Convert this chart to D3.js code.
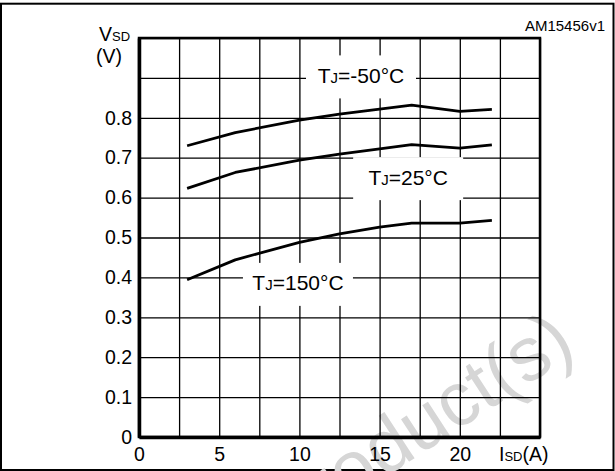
<!DOCTYPE html>
<html>
<head>
<meta charset="utf-8">
<script src="https://cdn.jsdelivr.net/npm/d3@7"></script>
<style>
  body { margin: 0; background: #fff; }
  svg { display: block; font-family: "Liberation Sans", Arial, sans-serif; }
</style>
</head>
<body>
<div id="chart"></div>
<script>
// Source-drain diode forward characteristics
const currentA = [3, 6, 10, 12.5, 15, 17, 20, 22];
const vMinus50 = [0.730, 0.763, 0.794, 0.809, 0.822, 0.832, 0.816, 0.821];
const v25 = [0.623, 0.663, 0.694, 0.709, 0.722, 0.733, 0.724, 0.732];
const v150 = [0.394, 0.444, 0.488, 0.509, 0.526, 0.536, 0.536, 0.543];

const xTickLabels = [0, 5, 10, 15, 20];
const yTickLabels = [0, 0.1, 0.2, 0.3, 0.4, 0.5, 0.6, 0.7, 0.8];
const xGrid = d3.range(0, 25.01, 2.5);
const yGrid = d3.range(0, 1.001, 0.1);

const seriesNames = ['-50', '25', '150'];
const seriesValues = [vMinus50, v25, v150];

let margin = { top: 38, left: 139, right: 75, bottom: 34 },
  W = 615, H = 471,
  width = W - margin.left - margin.right,
  height = H - margin.top - margin.bottom;

let svg = d3.select('#chart')
  .append('svg')
    .attr('width', W)
    .attr('height', H);

// outer border
svg.append('rect')
  .attr('x', 1).attr('y', 3.7)
  .attr('width', 612.5).attr('height', 466.3)
  .attr('fill', 'none')
  .attr('stroke', '#000')
  .attr('stroke-width', 2);

// watermark
svg.append('text')
  .attr('transform', 'translate(578,352) rotate(-33)')
  .attr('text-anchor', 'end')
  .attr('font-size', 76)
  .attr('fill', '#d6d6d6')
  .text('Product(s)');

let g = svg.append('g')
  .attr('transform', 'translate(' + margin.left + ',' + margin.top + ')');

let x = d3.scaleLinear().domain([0, 25]).range([0, width]);
let y = d3.scaleLinear().domain([0, 1]).range([height, 0]);

// grid
g.append('g')
  .attr('class', 'grid')
  .attr('transform', 'translate(0,' + height + ')')
  .call(d3.axisBottom(x).tickValues(xGrid).tickSize(-height).tickFormat(''))
  .call(s => s.select('.domain').remove())
  .selectAll('line')
    .attr('stroke', '#000')
    .attr('stroke-width', 1.3);

g.append('g')
  .attr('class', 'grid')
  .call(d3.axisLeft(y).tickValues(yGrid).tickSize(-width).tickFormat(''))
  .call(s => s.select('.domain').remove())
  .selectAll('line')
    .attr('stroke', '#000')
    .attr('stroke-width', 1.3);

// frame
g.append('rect')
  .attr('width', width).attr('height', height)
  .attr('fill', 'none')
  .attr('stroke', '#000')
  .attr('stroke-width', 2.5);

// tick labels
let xAxis = g.append('g')
  .attr('transform', 'translate(0,' + height + ')')
  .call(d3.axisBottom(x).tickValues(xTickLabels).tickSize(0).tickPadding(10).tickFormat(d3.format('d')));
xAxis.select('.domain').attr('stroke', '#000').attr('stroke-width', 3.5);
xAxis.selectAll('text').attr('font-size', 19.5).attr('fill', '#000')
  .attr('font-family', '"Liberation Sans", Arial, sans-serif');

let yAxis = g.append('g')
  .call(d3.axisLeft(y).tickValues(yTickLabels).tickSize(0).tickPadding(7)
    .tickFormat(d => d === 0 ? '0' : d3.format('.1f')(d)));
yAxis.select('.domain').attr('stroke', '#000').attr('stroke-width', 3.5);
yAxis.selectAll('text').attr('font-size', 19.5).attr('fill', '#000')
  .attr('font-family', '"Liberation Sans", Arial, sans-serif');

// annotation boxes
let notes = [
  { name: '-50', cx: 13.84, cy: 0.9025 },
  { name: '25', cx: 16.78, cy: 0.6475 },
  { name: '150', cx: 9.91, cy: 0.3825 }
];

let note = g.selectAll('.note')
  .data(notes)
  .enter().append('g')
    .attr('class', 'note')
    .attr('transform', d => 'translate(' + x(d.cx) + ',' + y(d.cy) + ')');

note.append('rect')
  .attr('x', -55).attr('y', -21.5)
  .attr('width', 110).attr('height', 43)
  .attr('fill', '#fff');

let noteText = note.append('text')
  .attr('text-anchor', 'middle')
  .attr('y', 6)
  .attr('font-size', 21);
noteText.append('tspan').text('T');
noteText.append('tspan').attr('font-size', 15).text('J');
noteText.append('tspan').text(d => '=' + d.name + '°C');

// curves
let line = d3.line()
  .x(d => x(d[0]))
  .y(d => y(d[1]));

g.selectAll('.curve')
  .data(seriesValues.map(v => currentA.map((a, i) => [a, v[i]])))
  .enter().append('path')
    .attr('class', 'curve')
    .attr('d', line)
    .attr('fill', 'none')
    .attr('stroke', '#000')
    .attr('stroke-width', 2.8)
    .attr('stroke-linejoin', 'round');

// axis titles
let vsd = svg.append('text').attr('x', 99).attr('y', 41).attr('font-size', 19.5);
vsd.append('tspan').text('V');
vsd.append('tspan').attr('font-size', 13).text('SD');
svg.append('text').attr('x', 96).attr('y', 63).attr('font-size', 19.5).text('(V)');

let isd = svg.append('text').attr('x', 499).attr('y', 461).attr('font-size', 19.5);
isd.append('tspan').text('I');
isd.append('tspan').attr('font-size', 13).text('SD');
isd.append('tspan').text('(A)');

svg.append('text')
  .attr('x', 605).attr('y', 31)
  .attr('text-anchor', 'end')
  .attr('font-size', 15)
  .text('AM15456v1');
</script>
</body>
</html>
